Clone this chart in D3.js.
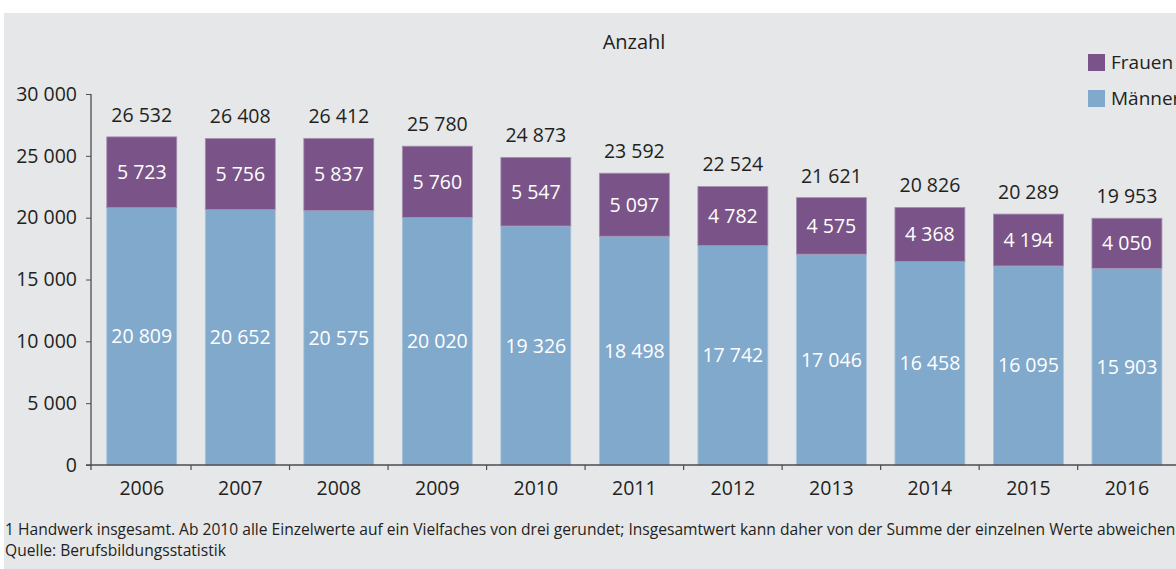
<!DOCTYPE html>
<html><head><meta charset="utf-8">
<script src="https://cdn.jsdelivr.net/npm/d3@7"></script>
<style>
html,body{margin:0;padding:0;background:#fff;}
svg{display:block;}
text{font-family:"Open Sans",sans-serif;fill:#231f20;}
</style></head>
<body>
<svg id="chart" width="1176" height="569"></svg>
<script>
const years = ["2006","2007","2008","2009","2010","2011","2012","2013","2014","2015","2016"];
const maenner = [20809,20652,20575,20020,19326,18498,17742,17046,16458,16095,15903];
const frauen = [5723,5756,5837,5760,5547,5097,4782,4575,4368,4194,4050];
const totals = [26532,26408,26412,25780,24873,23592,22524,21621,20826,20289,19953];
const yTicks = [0,5000,10000,15000,20000,25000,30000];
const seriesNames = ["Frauen","Männer"];
const seriesColors = ["#7a5488","#81a9cb"];
const title = "Anzahl";
const footnotes = [
  "1 Handwerk insgesamt. Ab 2010 alle Einzelwerte auf ein Vielfaches von drei gerundet; Insgesamtwert kann daher von der Summe der einzelnen Werte abweichen",
  "Quelle: Berufsbildungsstatistik"
];

const loc = d3.formatLocale({decimal:",", thousands:"\u00A0", grouping:[3], currency:["","€"]});
const fmt = loc.format(",d");

const svg = d3.select("#chart");
svg.append("rect").attr("x",4).attr("y",13).attr("width",1172).attr("height",556).attr("fill","#e6e7e9");

const x = d3.scaleBand().domain(years).range([92.5,1176.2]).paddingInner(0.29).paddingOuter(0.145);
const y = d3.scaleLinear().domain([0,30000]).range([465,94]);

const data = years.map((yr,i)=>({year:yr, m:maenner[i], f:frauen[i], t:totals[i]}));

// bars
const g = svg.append("g");
g.selectAll("rect.m").data(data).join("rect").attr("class","m")
  .attr("x",d=>x(d.year)).attr("width",x.bandwidth())
  .attr("y",d=>y(d.m)).attr("height",d=>y(0)-y(d.m))
  .attr("fill",seriesColors[1]).attr("stroke","#a9c4dc").attr("stroke-width",0.8);
g.selectAll("rect.f").data(data).join("rect").attr("class","f")
  .attr("x",d=>x(d.year)).attr("width",x.bandwidth())
  .attr("y",d=>y(d.m+d.f)).attr("height",d=>y(d.m)-y(d.m+d.f))
  .attr("fill",seriesColors[0]).attr("stroke","#a58fb0").attr("stroke-width",0.8);

// labels
const cx = d=>x(d.year)+x.bandwidth()/2;
g.selectAll("text.m").data(data).join("text").attr("class","m")
  .attr("x",cx).attr("y",d=>(y(0)+y(d.m))/2+7)
  .attr("text-anchor","middle").style("font-size","19.5px").style("fill","#fff")
  .text(d=>fmt(d.m));
g.selectAll("text.f").data(data).join("text").attr("class","f")
  .attr("x",cx).attr("y",d=>(y(d.m)+y(d.m+d.f))/2+7)
  .attr("text-anchor","middle").style("font-size","19.5px").style("fill","#fff")
  .text(d=>fmt(d.f));
g.selectAll("text.t").data(data).join("text").attr("class","t")
  .attr("x",cx).attr("y",d=>y(d.m+d.f)-15)
  .attr("text-anchor","middle").style("font-size","19.5px")
  .text(d=>fmt(d.t));

// y axis
const yAxis = svg.append("g").attr("transform","translate(91,0)")
  .call(d3.axisLeft(y).tickValues(yTicks).tickFormat(fmt).tickSize(5).tickPadding(9));
yAxis.select(".domain").remove();
yAxis.selectAll("line").attr("stroke","#4d4d4f");
yAxis.selectAll("text").style("font-size","19.5px").style("font-family","Open Sans").attr("fill","#231f20");
svg.append("line").attr("x1",91).attr("x2",91).attr("y1",y(30000)).attr("y2",y(0)+5).attr("stroke","#4d4d4f").attr("stroke-width",1.3);

// x axis
svg.append("line").attr("x1",86).attr("x2",1176).attr("y1",y(0)).attr("y2",y(0)).attr("stroke","#4d4d4f").attr("stroke-width",1.3);
const step = x.step();
const bounds = years.slice(1).map(yr=>x(yr)-step*x.paddingInner()/2);
svg.selectAll("line.xt").data(bounds).join("line").attr("class","xt")
  .attr("x1",d=>d).attr("x2",d=>d).attr("y1",y(0)).attr("y2",y(0)+5).attr("stroke","#4d4d4f").attr("stroke-width",1.2);
const xAxis = svg.append("g").attr("transform",`translate(0,${y(0)})`)
  .call(d3.axisBottom(x).tickSize(0).tickPadding(16));
xAxis.select(".domain").remove();
xAxis.selectAll("text").style("font-size","19.5px").style("font-family","Open Sans").attr("fill","#231f20");

// title
svg.append("text").attr("x",634).attr("y",49).attr("text-anchor","middle").style("font-size","20px").text(title);

// legend
const leg = svg.append("g");
seriesNames.forEach((n,i)=>{
  leg.append("rect").attr("x",1088).attr("y",54+i*36).attr("width",17).attr("height",17).attr("fill",seriesColors[i]);
  leg.append("text").attr("x",1111).attr("y",69+i*36).style("font-size","19px").text(n);
});

// footnotes
footnotes.forEach((t,i)=>{
  svg.append("text").attr("x",5).attr("y",535+i*21).style("font-size","15.6px").text(t);
});
</script>
</body></html>
